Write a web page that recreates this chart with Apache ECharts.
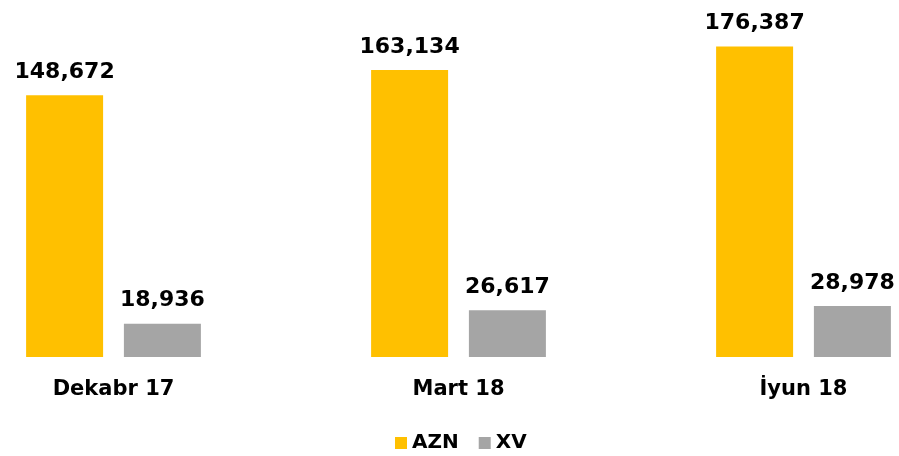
<!DOCTYPE html>
<html>
<head>
<meta charset="utf-8">
<script src="https://cdn.jsdelivr.net/npm/echarts@6/dist/echarts.min.js"></script>
<style>
  html, body { margin: 0; padding: 0; background: #fff; }
  #chart { width: 899px; height: 456px; }
</style>
</head>
<body>
<div id="chart"></div>
<script>
var categories = ['Dekabr 17', 'Mart 18', 'İyun 18'];
var aznValues = [148672, 163134, 176387];
var xvValues = [18936, 26617, 28978];

var myChart = echarts.init(document.getElementById('chart'));

var labelStyle = {
  show: true,
  position: 'top',
  distance: 12,
  color: '#000',
  fontFamily: 'DejaVu Sans',
  fontWeight: 'bold',
  fontSize: 22,
  formatter: function (p) {
    return p.value.toLocaleString('en-US');
  }
};

var option = {
  animation: false,
  grid: {
    left: 113.5,
    right: 95.5,
    top: 5,
    bottom: 99,
    containLabel: false,
    outerBoundsMode: 'none'
  },
  legend: {
    top: 428,
    left: 390,
    itemWidth: 12,
    itemHeight: 12,
    itemGap: 20,
    icon: 'rect',
    textStyle: {
      fontFamily: 'DejaVu Sans',
      fontWeight: 'bold',
      fontSize: 20,
      color: '#000'
    },
    data: ['AZN', 'XV']
  },
  xAxis: {
    type: 'category',
    boundaryGap: false,
    data: categories,
    axisLine: { show: false },
    axisTick: { show: false },
    axisLabel: {
      margin: 22,
      color: '#000',
      fontFamily: 'DejaVu Sans',
      fontWeight: 'bold',
      fontSize: 21
    }
  },
  yAxis: {
    type: 'value',
    min: 0,
    max: 200000,
    show: false,
    splitLine: { show: false }
  },
  series: [
    {
      name: 'AZN',
      type: 'bar',
      data: aznValues,
      barWidth: 77,
      barGap: '27%',
      clip: false,
      itemStyle: { color: '#FFC000' },
      label: labelStyle
    },
    {
      name: 'XV',
      type: 'bar',
      data: xvValues,
      barWidth: 77,
      clip: false,
      itemStyle: { color: '#A5A5A5' },
      label: labelStyle
    }
  ]
};

myChart.setOption(option);
</script>
</body>
</html>
